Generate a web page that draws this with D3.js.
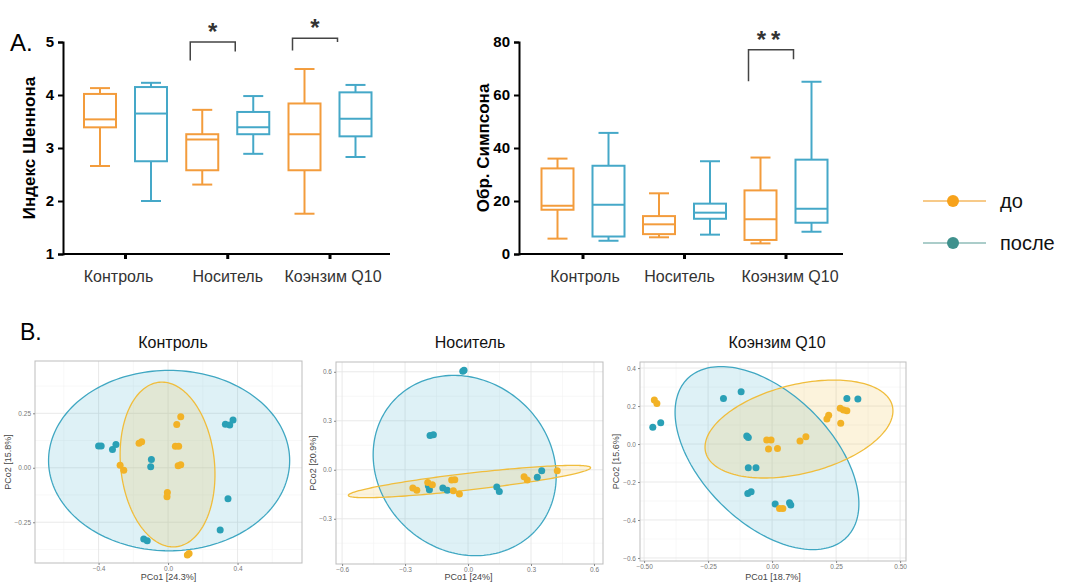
<!DOCTYPE html>
<html lang="ru">
<head>
<meta charset="UTF-8">
<title>Альфа- и бета-разнообразие</title>
<script src="https://cdn.jsdelivr.net/npm/d3@7/dist/d3.min.js"></script>
<style>
  body { margin: 0; background: #fff; }
  text { font-family: "Liberation Sans", Arial, sans-serif; }
</style>
</head>
<body>
<svg id="chart" width="1067" height="583"></svg>
<script>
// ---- data ----
const groups = ["Контроль", "Носитель", "Коэнзим Q10"];
// [min, q1, median, q3, max]
const shannonDo    = [[2.66, 3.39, 3.54, 4.02, 4.13], [2.31, 2.58, 3.16, 3.26, 3.72], [1.76, 2.58, 3.26, 3.84, 4.49]];
const shannonPosle = [[2.00, 2.75, 3.65, 4.15, 4.23], [2.89, 3.26, 3.39, 3.68, 3.98], [2.83, 3.22, 3.55, 4.05, 4.19]];
const simpsonDo    = [[5.8, 16.7, 18.2, 32.3, 36.0], [6.3, 7.5, 11.2, 14.3, 22.9], [4.0, 5.3, 13.1, 24.0, 36.4]];
const simpsonPosle = [[5.0, 6.6, 18.6, 33.3, 45.7], [7.3, 13.3, 15.6, 19.0, 35.0], [8.4, 11.8, 17.1, 35.6, 65.0]];
const shannonTicks = [1, 2, 3, 4, 5];
const simpsonTicks = [0, 20, 40, 60, 80];
// significance brackets: group index, top, left leg end, right leg end, label
const shannonSig = [{g: 1, top: 5.0, l: 4.65, r: 4.82, label: "*"}, {g: 2, top: 5.07, l: 4.84, r: 5.0, label: "*"}];
const simpsonSig = [{g: 2, top: 77.1, l: 65.2, r: 73.5, label: "**"}];
const seriesNames = ["до", "после"];

// PCoA points [PCo1, PCo2]
const ctrlDo = [[0.073, 0.234], [0.05, 0.199], [-0.167, 0.112], [-0.152, 0.119], [0.042, 0.099], [0.061, 0.099],
  [-0.276, 0.012], [-0.255, -0.011], [0.058, 0.009], [0.073, 0.014], [-0.004, -0.113], [-0.006, -0.133], [0.121, -0.393], [0.111, -0.40]];
const ctrlPosle = [[-0.40, 0.10], [-0.385, 0.10], [-0.32, 0.084], [-0.30, 0.107], [-0.096, 0.038], [-0.10, 0.005],
  [0.33, 0.20], [0.355, 0.196], [0.374, 0.219], [0.345, -0.142], [0.30, -0.286], [-0.14, -0.327], [-0.12, -0.335]];
const nosDo = [[-0.263, -0.112], [-0.244, -0.125], [-0.192, -0.078], [-0.17, -0.092], [-0.078, -0.063], [-0.063, -0.061],
  [-0.07, -0.129], [-0.041, -0.149], [0.267, -0.043], [0.282, -0.063], [0.425, -0.006]];
const nosPosle = [[-0.025, 0.603], [-0.019, 0.61], [-0.181, 0.21], [-0.165, 0.215], [-0.189, -0.098], [-0.184, -0.123],
  [-0.12, -0.112], [-0.099, -0.125], [0.137, -0.106], [0.149, -0.133], [0.33, -0.045], [0.351, -0.006]];
const q10Do = [[-0.46, 0.232], [-0.45, 0.214], [-0.021, 0.021], [-0.004, 0.021], [-0.014, -0.026], [0.021, -0.023],
  [0.109, 0.016], [0.132, 0.038], [0.029, -0.339], [0.042, -0.339], [0.214, 0.132], [0.221, 0.151], [0.268, 0.109],
  [0.266, 0.188], [0.279, 0.179], [0.292, 0.175]];
const q10Posle = [[-0.466, 0.088], [-0.435, 0.112], [-0.19, 0.24], [-0.121, 0.275], [-0.099, 0.042], [-0.093, 0.035],
  [-0.093, -0.125], [-0.063, -0.125], [-0.095, -0.26], [-0.082, -0.251], [0.012, -0.316], [0.068, -0.309], [0.073, -0.321],
  [0.292, 0.24], [0.335, 0.237]];
// ellipses: centre, half-width, half-height, correlation
const ctrlEll  = {posle: {cx: 0.006, cy: 0.033, sx: 0.694, sy: 0.414, rho: 0.0},  do: {cx: -0.003, cy: 0.015, sx: 0.273, sy: 0.378, rho: -0.12}};
const nosEll   = {posle: {cx: -0.016, cy: 0.026, sx: 0.436, sy: 0.552, rho: -0.12}, do: {cx: 0.007, cy: -0.072, sx: 0.577, sy: 0.099, rho: 0.854}};
const q10Ell   = {posle: {cx: -0.02, cy: -0.074, sx: 0.359, sy: 0.482, rho: -0.5}, do: {cx: 0.105, cy: 0.079, sx: 0.367, sy: 0.258, rho: 0.37}};

const ORANGE = "#f39c3c", BLUE = "#45a8c8";
const svg = d3.select("#chart");

// ---- panel A: box plots ----
function boxPanel(o) {
  const g = svg.append("g");
  const y = d3.scaleLinear().domain(o.domain).range([254, 42]);
  const x = d3.scalePoint().domain(groups).range(o.xr);
  const off = 25.5, bw = 32;

  g.append("line").attr("x1", o.ax).attr("x2", o.axEnd).attr("y1", 254).attr("y2", 254)
    .attr("stroke", "#000").attr("stroke-width", 2);
  const yAxis = g.append("g").attr("transform", `translate(${o.ax},0)`)
    .call(d3.axisLeft(y).tickValues(o.ticks).tickFormat(d3.format("d")).tickSize(5).tickPadding(4));
  yAxis.select(".domain").attr("stroke-width", 2);
  yAxis.selectAll(".tick line").attr("stroke-width", 2);
  yAxis.selectAll("text").attr("font-size", 15).attr("font-weight", "bold").attr("fill", "#000")
    .style("font-family", "Liberation Sans, Arial, sans-serif");

  g.selectAll(".xt").data(groups).join("line")
    .attr("x1", d => x(d)).attr("x2", d => x(d)).attr("y1", 254).attr("y2", 259)
    .attr("stroke", "#000").attr("stroke-width", 3);
  g.selectAll(".xl").data(groups).join("text")
    .attr("x", (d, i) => x(d) + o.labelShift[i]).attr("y", 282).attr("text-anchor", "middle")
    .attr("font-size", 16).attr("fill", "#333").text(d => d);

  g.append("text").attr("transform", `translate(${o.titleX},148) rotate(-90)`)
    .attr("text-anchor", "middle").attr("font-size", 17).attr("font-weight", "bold").text(o.title);

  [[o.before, ORANGE, -off], [o.after, BLUE, off]].forEach(([vals, col, dx]) => {
    vals.forEach((s, i) => {
      const cx = x(groups[i]) + dx;
      const b = g.append("g").attr("stroke", col).attr("stroke-width", 2).attr("fill", "none");
      b.append("line").attr("x1", cx).attr("x2", cx).attr("y1", y(s[0])).attr("y2", y(s[1]));
      b.append("line").attr("x1", cx).attr("x2", cx).attr("y1", y(s[3])).attr("y2", y(s[4]));
      [s[0], s[4]].forEach(v => b.append("line").attr("x1", cx - 10).attr("x2", cx + 10)
        .attr("y1", y(v)).attr("y2", y(v)));
      b.append("rect").attr("x", cx - bw / 2).attr("width", bw)
        .attr("y", y(s[3])).attr("height", y(s[1]) - y(s[3]));
      b.append("line").attr("x1", cx - bw / 2).attr("x2", cx + bw / 2).attr("y1", y(s[2])).attr("y2", y(s[2]));
    });
  });

  o.sig.forEach(s => {
    const x1 = x(groups[s.g]) - off - 12, x2 = x(groups[s.g]) + off - 18;
    g.append("path").attr("fill", "none").attr("stroke", "#444").attr("stroke-width", 1.5)
      .attr("d", `M${x1},${y(s.l)}V${y(s.top)}H${x2}V${y(s.r)}`);
    g.append("text").attr("x", (x1 + x2) / 2).attr("y", y(s.top) - 2).attr("text-anchor", "middle")
      .attr("font-size", 24).attr("font-weight", "bold").attr("fill", "#333")
      .attr("letter-spacing", s.label.length > 1 ? 5 : 0).text(s.label);
  });
}

boxPanel({domain: [1, 5], xr: [125.5, 330], ax: 63, axEnd: 390, ticks: shannonTicks, title: "Индекс Шеннона",
  titleX: 35, before: shannonDo, after: shannonPosle, sig: shannonSig, labelShift: [-7, 0, 3]});
boxPanel({domain: [0, 80], xr: [583, 786], ax: 519, axEnd: 843, ticks: simpsonTicks, title: "Обр. Симпсона",
  titleX: 489, before: simpsonDo, after: simpsonPosle, sig: simpsonSig, labelShift: [2, -5, 4]});

svg.append("text").attr("x", 10).attr("y", 51).attr("font-size", 24).text("A.");

// legend
const leg = svg.append("g");
[[seriesNames[0], "#f5b862", "#f7a21b", 201], [seriesNames[1], "#8fbcb8", "#3f918d", 243]].forEach(([t, lc, dc, ly]) => {
  leg.append("line").attr("x1", 923).attr("x2", 986).attr("y1", ly).attr("y2", ly).attr("stroke", lc).attr("stroke-width", 1.5);
  leg.append("circle").attr("cx", 953).attr("cy", ly).attr("r", 6).attr("fill", dc);
  leg.append("text").attr("x", 1000).attr("y", ly + 7).attr("font-size", 20).attr("fill", "#111").text(t);
});

// ---- panel B: PCoA ----
svg.append("text").attr("x", 20).attr("y", 340).attr("font-size", 23).text("B.");

function pcoa(o) {
  const g = svg.append("g");
  const x = d3.scaleLinear().domain(o.xd).range(o.xr);
  const y = d3.scaleLinear().domain(o.yd).range(o.yr);
  const [L, R] = o.xr, [B, T] = o.yr;

  const minor = (ticks) => ticks.slice(0, -1).map((t, i) => (t + ticks[i + 1]) / 2)
    .concat([ticks[0] - (ticks[1] - ticks[0]) / 2, ticks[ticks.length - 1] + (ticks[1] - ticks[0]) / 2]);
  const grid = g.append("g").attr("stroke-width", 0.6);
  minor(o.xt).filter(v => x(v) > L && x(v) < R).forEach(v => grid.append("line")
    .attr("x1", x(v)).attr("x2", x(v)).attr("y1", T).attr("y2", B).attr("stroke", "#f4f4f4"));
  minor(o.yt).filter(v => y(v) < B && y(v) > T).forEach(v => grid.append("line")
    .attr("y1", y(v)).attr("y2", y(v)).attr("x1", L).attr("x2", R).attr("stroke", "#f4f4f4"));
  o.xt.forEach(v => grid.append("line").attr("x1", x(v)).attr("x2", x(v)).attr("y1", T).attr("y2", B).attr("stroke", "#e6e6e6").attr("stroke-width", 0.9));
  o.yt.forEach(v => grid.append("line").attr("y1", y(v)).attr("y2", y(v)).attr("x1", L).attr("x2", R).attr("stroke", "#e6e6e6").attr("stroke-width", 0.9));

  const ellPath = e => {
    const d = Math.acos(e.rho);
    const pts = d3.range(0, 2 * Math.PI, Math.PI / 90)
      .map(t => [x(e.cx + e.sx * Math.cos(t)), y(e.cy + e.sy * Math.cos(t + d))]);
    return d3.line().curve(d3.curveLinearClosed)(pts);
  };
  g.append("path").attr("d", ellPath(o.ell.posle)).attr("fill", "#5bb8d4").attr("fill-opacity", 0.2);
  g.append("path").attr("d", ellPath(o.ell.do)).attr("fill", "#f2c14e").attr("fill-opacity", 0.2);
  g.append("path").attr("d", ellPath(o.ell.posle)).attr("fill", "none").attr("stroke", "#3fa7c2").attr("stroke-width", 1.3);
  g.append("path").attr("d", ellPath(o.ell.do)).attr("fill", "none").attr("stroke", "#f0bd3c").attr("stroke-width", 1.3);

  g.selectAll(".pa").data(o.after).join("circle")
    .attr("cx", d => x(d[0])).attr("cy", d => y(d[1])).attr("r", 3.5).attr("fill", "#2aa0b6");
  g.selectAll(".pb").data(o.before).join("circle")
    .attr("cx", d => x(d[0])).attr("cy", d => y(d[1])).attr("r", 3.5).attr("fill", "#f2b226");

  g.append("rect").attr("x", L).attr("y", T).attr("width", R - L).attr("height", B - T)
    .attr("fill", "none").attr("stroke", "#bdbdbd").attr("stroke-width", 1);

  const xa = g.append("g").attr("transform", `translate(0,${B})`)
    .call(d3.axisBottom(x).tickValues(o.xt).tickFormat(d3.format(o.xf)).tickSize(2).tickPadding(1.5));
  const ya = g.append("g").attr("transform", `translate(${L},0)`)
    .call(d3.axisLeft(y).tickValues(o.yt).tickFormat(d3.format(o.yf)).tickSize(2).tickPadding(2));
  [xa, ya].forEach(a => {
    a.select(".domain").remove();
    a.selectAll(".tick line").attr("stroke", "#888");
    a.selectAll("text").attr("font-size", 6.5).attr("fill", "#777")
      .style("font-family", "Liberation Sans, Arial, sans-serif");
  });

  g.append("text").attr("x", (L + R) / 2 + o.xlShift).attr("y", 580).attr("text-anchor", "middle")
    .attr("font-size", 9).attr("fill", "#444").text(o.xlab);
  g.append("text").attr("transform", `translate(${o.ylx},${(T + B) / 2}) rotate(-90)`)
    .attr("text-anchor", "middle").attr("font-size", 9).attr("fill", "#444").text(o.ylab);
  g.append("text").attr("x", o.titleX).attr("y", 348).attr("text-anchor", "middle")
    .attr("font-size", 16).attr("fill", "#111").text(o.title);
}

pcoa({xd: [-0.766, 0.771], yd: [-0.437, 0.49], xr: [35, 302], yr: [563, 361],
  xt: [-0.4, 0, 0.4], yt: [-0.25, 0, 0.25], xf: ".1f", yf: ".2f",
  after: ctrlPosle, before: ctrlDo, ell: ctrlEll, xlab: "PCo1 [24.3%]", ylab: "PCo2 [15.8%]",
  ylx: 11, xlShift: 0, title: groups[0], titleX: 173});
pcoa({xd: [-0.629, 0.643], yd: [-0.577, 0.66], xr: [336, 603], yr: [564, 362],
  xt: [-0.6, -0.3, 0, 0.3, 0.6], yt: [-0.3, 0, 0.3, 0.6], xf: ".1f", yf: ".1f",
  after: nosPosle, before: nosDo, ell: nosEll, xlab: "PCo1 [24%]", ylab: "PCo2 [20.9%]",
  ylx: 316, xlShift: -1, title: groups[1], titleX: 470});
pcoa({xd: [-0.516, 0.523], yd: [-0.616, 0.432], xr: [640, 906], yr: [561, 362],
  xt: [-0.5, -0.25, 0, 0.25, 0.5], yt: [-0.6, -0.4, -0.2, 0, 0.2, 0.4], xf: ".2f", yf: ".1f",
  after: q10Posle, before: q10Do, ell: q10Ell, xlab: "PCo1 [18.7%]", ylab: "PCo2 [15.6%]",
  ylx: 619, xlShift: 0, title: groups[2], titleX: 777});
</script>
</body>
</html>
